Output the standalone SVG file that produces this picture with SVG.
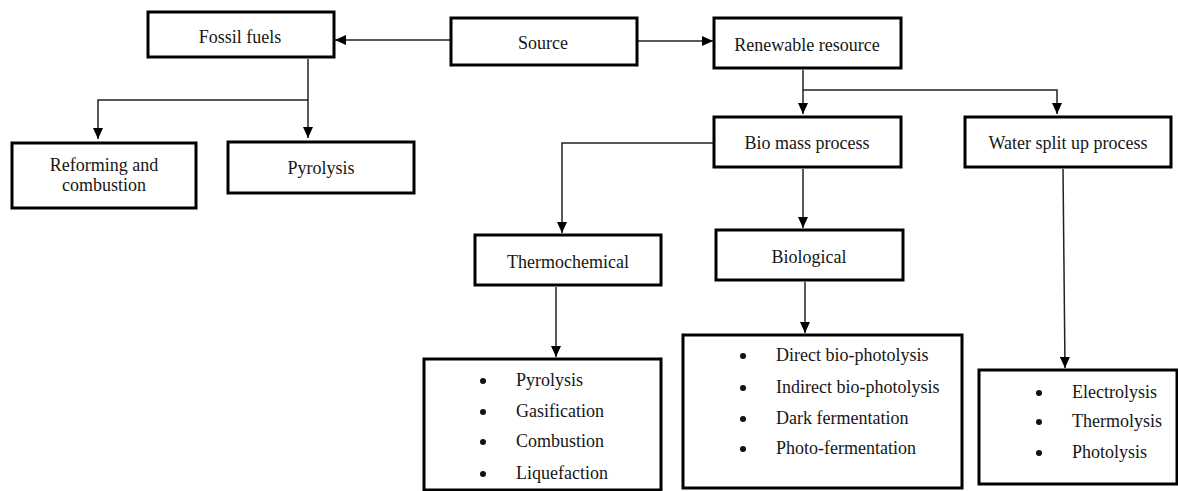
<svg xmlns="http://www.w3.org/2000/svg" width="1178" height="491" viewBox="0 0 1178 491">
<style>
.box{fill:#fff;stroke:#000;stroke-width:3}
.t{font-family:"Liberation Serif","Times New Roman",serif;font-size:18px;fill:#161616}
.c{text-anchor:middle}
.con{fill:none;stroke:#222;stroke-width:1.5}
.b{fill:#111}
</style>
<defs>
<marker id="ah" markerUnits="userSpaceOnUse" markerWidth="11" markerHeight="10" refX="11" refY="5" orient="auto">
<path d="M0,0 L11,5 L0,10 z" fill="#000"/>
</marker>
</defs>
<rect width="1178" height="491" fill="#fff"/>
<g id="connectors">
<path class="con" d="M451 40 L335 40" marker-end="url(#ah)"/>
<path class="con" d="M637 41 L713 41" marker-end="url(#ah)"/>
<path class="con" d="M308 59 L308 138" marker-end="url(#ah)"/>
<path class="con" d="M308 100 L98 100 L98 139" marker-end="url(#ah)"/>
<path class="con" d="M803 70 L803 114" marker-end="url(#ah)"/>
<path class="con" d="M803 90 L1057 90 L1057 114" marker-end="url(#ah)"/>
<path class="con" d="M714 143 L562 143 L562 233" marker-end="url(#ah)"/>
<path class="con" d="M803 169 L803 228" marker-end="url(#ah)"/>
<path class="con" d="M556 287 L556 357" marker-end="url(#ah)"/>
<path class="con" d="M805 282 L805 333" marker-end="url(#ah)"/>
<path class="con" d="M1063 169 L1065 368" marker-end="url(#ah)"/>
</g>
<g id="source"><rect class="box" x="451" y="18" width="186" height="47"/><text class="t c" x="543" y="49">Source</text></g>
<g id="fossil"><rect class="box" x="148" y="12" width="186" height="45"/><text class="t c" x="240" y="43">Fossil fuels</text></g>
<g id="renewable"><rect class="box" x="714" y="18" width="187" height="50"/><text class="t c" x="807" y="51">Renewable resource</text></g>
<g id="reforming"><rect class="box" x="12" y="143" width="184" height="65"/><text class="t c" x="104" y="171">Reforming and</text><text class="t c" x="104" y="191">combustion</text></g>
<g id="pyrolysis"><rect class="box" x="228" y="142" width="186" height="51"/><text class="t c" x="321" y="174">Pyrolysis</text></g>
<g id="biomass"><rect class="box" x="714" y="117" width="187" height="50"/><text class="t c" x="807" y="149">Bio mass process</text></g>
<g id="water"><rect class="box" x="965" y="117" width="206" height="50"/><text class="t c" x="1068" y="149">Water split up process</text></g>
<g id="thermochemical"><rect class="box" x="475" y="235" width="186" height="50"/><text class="t c" x="568" y="268">Thermochemical</text></g>
<g id="biological"><rect class="box" x="716" y="230" width="187" height="50"/><text class="t c" x="809" y="263">Biological</text></g>
<g id="thermo-list"><rect class="box" x="424" y="359" width="237" height="131"/>
<circle class="b" cx="483" cy="381" r="3"/><text class="t" x="516" y="386">Pyrolysis</text>
<circle class="b" cx="483" cy="412" r="3"/><text class="t" x="516" y="417">Gasification</text>
<circle class="b" cx="483" cy="442" r="3"/><text class="t" x="516" y="447">Combustion</text>
<circle class="b" cx="483" cy="474" r="3"/><text class="t" x="516" y="479">Liquefaction</text>
</g>
<g id="bio-list"><rect class="box" x="683" y="335" width="279" height="153"/>
<circle class="b" cx="743" cy="356" r="3"/><text class="t" x="776" y="361">Direct bio-photolysis</text>
<circle class="b" cx="743" cy="388" r="3"/><text class="t" x="776" y="393">Indirect bio-photolysis</text>
<circle class="b" cx="743" cy="419" r="3"/><text class="t" x="776" y="424">Dark fermentation</text>
<circle class="b" cx="743" cy="449" r="3"/><text class="t" x="776" y="454">Photo-fermentation</text>
</g>
<g id="water-list"><rect class="box" x="979" y="370" width="198" height="114"/>
<circle class="b" cx="1039" cy="393" r="3"/><text class="t" x="1072" y="398">Electrolysis</text>
<circle class="b" cx="1039" cy="422" r="3"/><text class="t" x="1072" y="427">Thermolysis</text>
<circle class="b" cx="1039" cy="453" r="3"/><text class="t" x="1072" y="458">Photolysis</text>
</g>
</svg>
